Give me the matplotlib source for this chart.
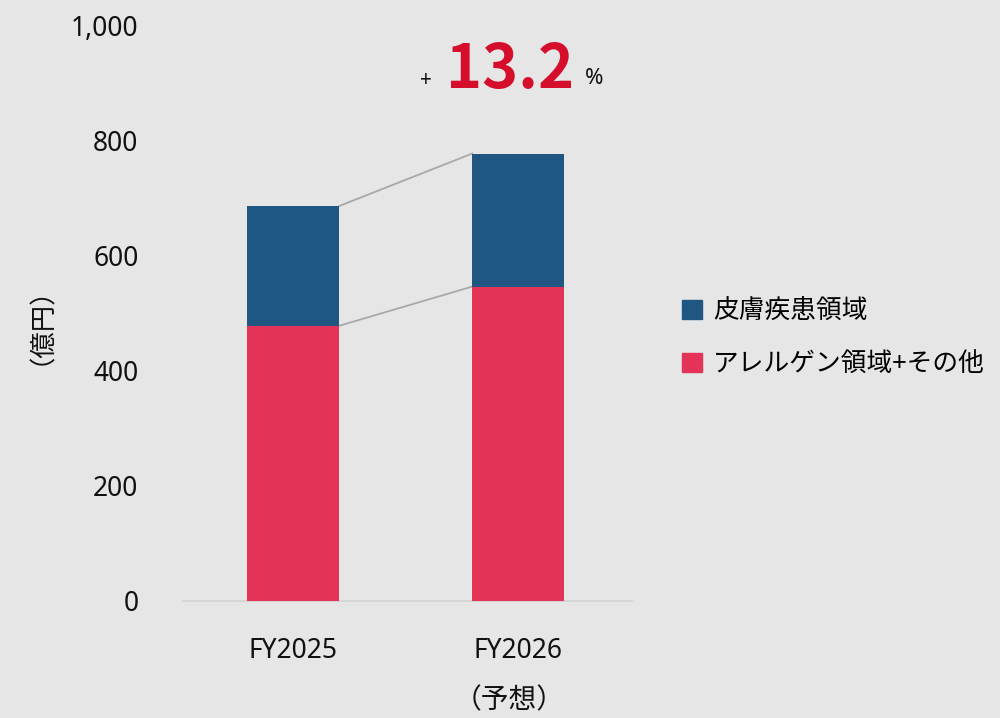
import matplotlib.pyplot as plt
from matplotlib.patches import Patch
from matplotlib import transforms

plt.rcParams['font.family'] = ['Noto Sans', 'Noto Sans CJK JP', 'DejaVu Sans']
cjk = ['Noto Sans CJK JP', 'DejaVu Sans']

# データ
years = ['FY2025', 'FY2026']
allergy = [478, 546]   # アレルゲン領域+その他
skin = [208, 231]      # 皮膚疾患領域
growth = '13.2'

c_red = '#E33357'
c_blue = '#1F5782'
bg = '#E6E6E6'

fig = plt.figure(figsize=(10, 7.18), dpi=100, facecolor=bg)
ax = fig.add_axes([0.183, 0.163, 0.449, 0.802], facecolor=bg)

x = list(range(len(years)))
w = 0.41
ax.bar(x, allergy, width=w, color=c_red, zorder=3)
ax.bar(x, skin, width=w, bottom=allergy, color=c_blue, zorder=3)

# 棒の間の補助線
tot = [a + s for a, s in zip(allergy, skin)]
ax.plot([x[0] + w / 2, x[1] - w / 2], [tot[0], tot[1]], color='#A8A8A8', lw=1.3, zorder=2)
ax.plot([x[0] + w / 2, x[1] - w / 2], [allergy[0], allergy[1]], color='#A8A8A8', lw=1.3, zorder=2)

ax.set_xlim(-0.49, 1.505)
ax.set_ylim(0, 1000)
ax.set_yticks(range(0, 1001, 200))
ax.set_yticklabels([f'{v:,}' for v in range(0, 1001, 200)])
ax.set_xticks(x)
ax.set_xticklabels(years)
ax.tick_params(axis='both', length=0, labelsize=19, colors='#111111')
ax.tick_params(axis='y', pad=32)
ax.tick_params(axis='x', pad=26)
for s in ['top', 'right', 'left']:
    ax.spines[s].set_visible(False)
ax.spines['bottom'].set_color('#D2D2D2')
ax.spines['bottom'].set_linewidth(1.2)

trans = transforms.blended_transform_factory(ax.transData, fig.transFigure)
ax.text(0.96, 1 - 700 / 718, '（予想）', transform=trans, ha='center', va='center',
        fontsize=20, color='#111111', family=cjk)

fig.text(0.028, 1 - 312 / 718, '（億円）', rotation=90, ha='center', va='center',
         fontsize=19, color='#111111', family=cjk)

# 伸び率
fig.text(0.426, 1 - 80 / 718, '+', ha='center', va='center', fontsize=15, color='#111111')
fig.text(0.510, 1 - 70 / 718, growth, ha='center', va='center', fontsize=44, fontweight='bold',
         color='#D50E2C', family=cjk)
fig.text(0.594, 1 - 79 / 718, '%', ha='center', va='center', fontsize=16, color='#111111')

handles = [Patch(color=c_blue, label='皮膚疾患領域'), Patch(color=c_red, label='アレルゲン領域+その他')]
fig.legend(handles=handles, loc='upper left', bbox_to_anchor=(0.672, 1 - 288 / 718), frameon=False,
           prop={'family': cjk, 'size': 18.5}, handlelength=0.75, handleheight=0.75, handletextpad=0.45,
           labelspacing=1.05, borderaxespad=0)

fig.savefig('out.png', dpi=100, facecolor=bg)
